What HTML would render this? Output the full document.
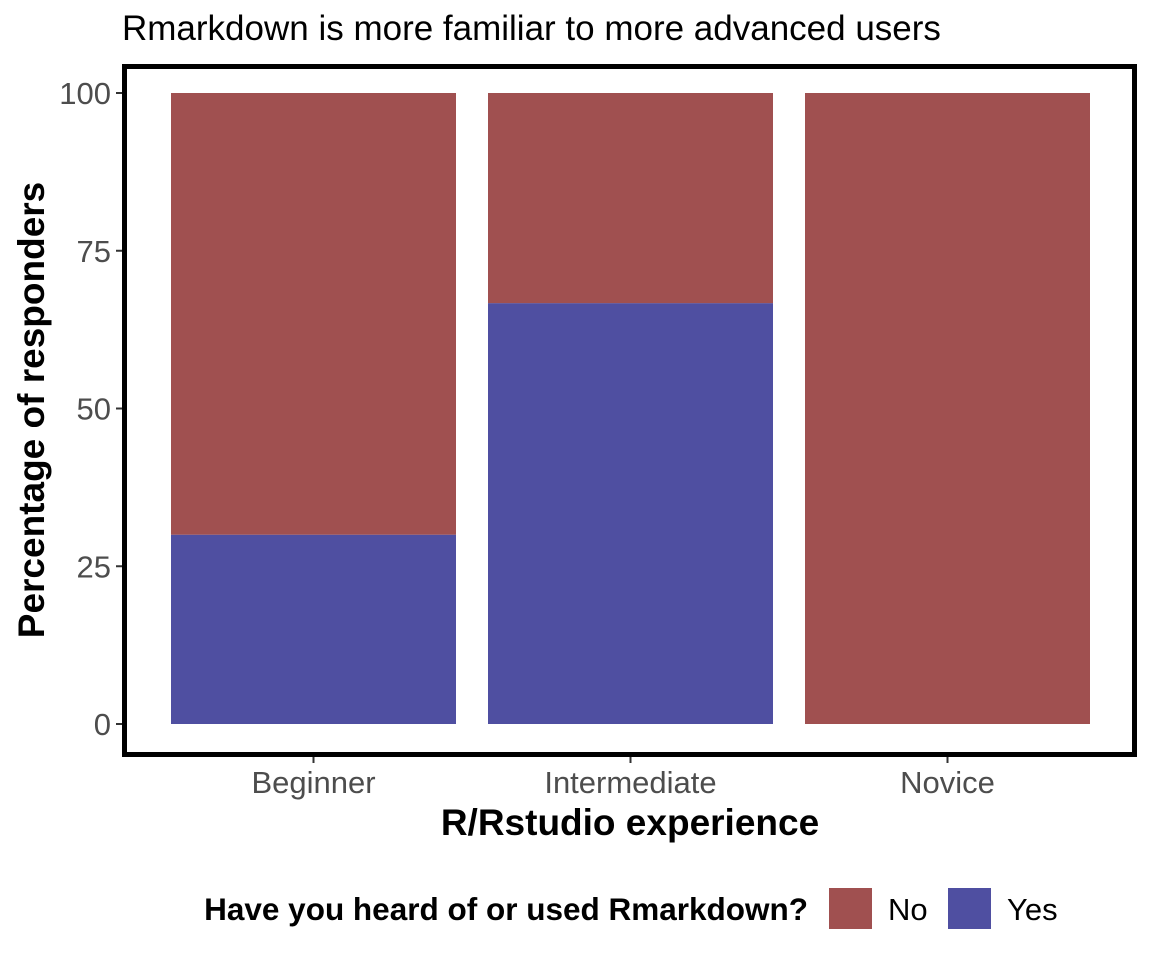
<!DOCTYPE html>
<html><head><meta charset="utf-8"><style>
body{margin:0;background:#fff;}
svg{display:block;font-family:"Liberation Sans",Arial,sans-serif;}
</style></head><body>
<svg id="chart" width="1152" height="960">
<text x="122" y="40" font-size="35" fill="#000">Rmarkdown is more familiar to more advanced users</text>
<g id="bars"></g>
<rect x="124.5" y="66.5" width="1010" height="688" fill="none" stroke="#000" stroke-width="5"/>
<g id="yticks"></g>
<g id="xticks"></g>
<text transform="translate(44,410) rotate(-90)" text-anchor="middle" font-size="37" font-weight="bold">Percentage of responders</text>
<text x="630" y="835" text-anchor="middle" font-size="37" font-weight="bold">R/Rstudio experience</text>
<g>
<text x="808" y="920" text-anchor="end" font-size="31.5" font-weight="bold">Have you heard of or used Rmarkdown?</text>
<rect x="829" y="888" width="43" height="41" fill="#A05050"/>
<text x="888" y="920" font-size="31">No</text>
<rect x="948" y="888" width="43" height="41" fill="#4F4FA1"/>
<text x="1007" y="920" font-size="31">Yes</text>
</g>
</svg>
<script>
const categories=["Beginner","Intermediate","Novice"];
const yesValues=[30,66.7,0];
const noValues=[70,33.3,100];
const yTickLabels=[0,25,50,75,100];
const NS="http://www.w3.org/2000/svg";
const y=v=>724-v*6.31;
const xc=i=>313.5+i*317;
const bw=285;
const bars=document.getElementById('bars');
function mk(t,a){const e=document.createElementNS(NS,t);for(const k in a)e.setAttribute(k,a[k]);return e;}
categories.forEach((c,i)=>{
 const ry=mk('rect',{x:xc(i)-bw/2,y:y(yesValues[i]),width:bw,height:y(0)-y(yesValues[i]),fill:'#4F4FA1'});
 
 
 bars.appendChild(ry);
 const top=yesValues[i]+noValues[i];
 const rn=mk('rect',{x:xc(i)-bw/2,y:y(top),width:bw,height:y(yesValues[i])-y(top),fill:'#A05050'});
 
 
 bars.appendChild(rn);
 const xt=document.getElementById('xticks');
 const tk=mk('line',{x1:xc(i),x2:xc(i),y1:757,y2:763,stroke:'#333','stroke-width':2});
 
 
 xt.appendChild(tk);
 const tl=mk('text',{x:xc(i),y:793,'text-anchor':'middle','font-size':31,fill:'#4D4D4D'});
 tl.textContent=c;
 
 
 xt.appendChild(tl);
});
const yt=document.getElementById('yticks');
yTickLabels.forEach(v=>{
 const tk=mk('line',{x1:116,x2:122,y1:y(v),y2:y(v),stroke:'#333','stroke-width':2});
 
 
 yt.appendChild(tk);
 const tl=mk('text',{x:111,y:y(v)+11,'text-anchor':'end','font-size':31,fill:'#4D4D4D'});
 tl.textContent=v;
 
 
 yt.appendChild(tl);
});
</script>
</body></html>
